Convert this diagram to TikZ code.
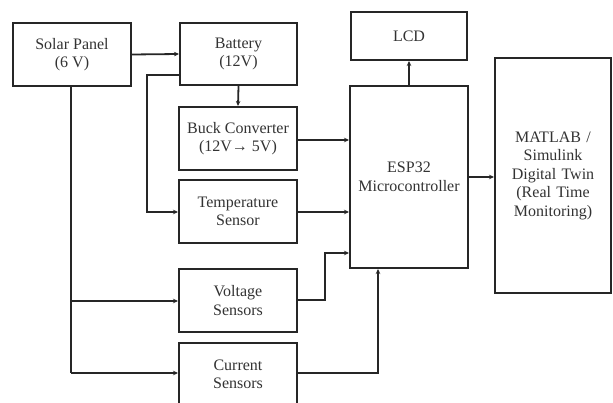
\documentclass[tikz,border=0pt]{standalone}
\usepackage{fontspec}
\setmainfont{Liberation Serif}
\usetikzlibrary{arrows.meta}
\begin{document}
\begin{tikzpicture}[x=1pt,y=-1pt,
  blk/.style={draw=black!85,line width=2pt,rectangle,align=center,inner sep=0pt,
    text=black!80,font=\fontsize{16}{18.5}\selectfont},
  conn/.style={draw=black!85,line width=1.8pt,-{Stealth[length=5pt,width=4.5pt]}},
  wire/.style={draw=black!85,line width=1.8pt}]
\useasboundingbox (0,0) rectangle (613,403);
\clip (0,0) rectangle (613,403);
\fill[white] (0,0) rectangle (613,403);
\node[blk,minimum width=118pt,minimum height=63pt] (solar) at (72,54.5) {Solar Panel\\(6 V)};
\node[blk,minimum width=117pt,minimum height=62pt] (bat) at (238.5,54) {Battery\\(12V)};
\node[blk,minimum width=118pt,minimum height=63pt] (buck) at (238,138.5) {Buck Converter\\(12V→ 5V)};
\node[blk,minimum width=118pt,minimum height=63pt] (temp) at (238,211.5) {Temperature\\Sensor};
\node[blk,minimum width=118pt,minimum height=63pt] (volt) at (238,300.5) {Voltage\\Sensors};
\node[blk,minimum width=118pt,minimum height=63pt] (curr) at (238,374.5) {Current\\Sensors};
\node[blk,minimum width=118pt,minimum height=182pt] (esp) at (409,177) {ESP32\\Microcontroller};
\node[blk,minimum width=116pt,minimum height=48pt] (lcd) at (409,36) {LCD};
\node[blk,minimum width=116pt,minimum height=235pt,text width=110pt] (mat) at (553,175.5) {MATLAB /\\Simulink\\Digital Twin\\(Real Time\\Monitoring)};
\coordinate (j1) at (147,75);
\coordinate (j2) at (147,212);
\coordinate (bk) at (300,140);
\coordinate (sv) at (71,301);
\coordinate (sc) at (71,373);
\coordinate (vb) at (325,300);
\coordinate (vt) at (325,253);
\coordinate (cb) at (378,373);
% connectors
\draw[conn] (solar.east) -- (bat.west);
\draw[conn] (bat.west |- j1) -- (j1) -- (j2) -- (temp.west |- j2);
\draw[conn] (bat.south) -- (buck.north);
\draw[conn] (buck.east |- bk) -- (esp.west |- bk);
\draw[conn] (temp.east |- j2) -- (esp.west |- j2);
\draw[conn] (volt.east |- vb) -- (vb) -- (vt) -- (esp.west |- vt);
\draw[conn] (curr.east |- cb) -- (cb) -- (cb |- esp.south);
\draw[wire] (solar.south -| sv) -- (sc);
\draw[conn] (sv) -- (volt.west |- sv);
\draw[conn] (sc) -- (curr.west |- sc);
\draw[conn] (esp.north) -- (lcd.south);
\draw[conn] (esp.east) -- (mat.west |- esp.east);
\end{tikzpicture}
\end{document}
